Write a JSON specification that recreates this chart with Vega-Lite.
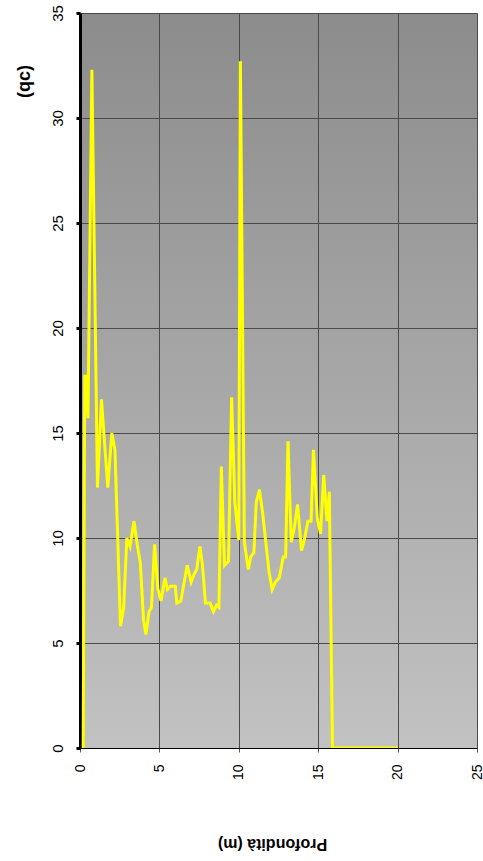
{
  "$schema": "https://vega.github.io/schema/vega-lite/v6.json",
  "autosize": "none",
  "width": 397,
  "height": 735,
  "padding": {"left": 80, "top": 13, "right": 6, "bottom": 113},
  "background": "white",
  "config": {
    "view": {
      "stroke": null,
      "fill": {"gradient": "linear", "x1": 0, "y1": 0, "x2": 0, "y2": 1, "stops": [{"offset": 0, "color": "#8c8c8c"}, {"offset": 1, "color": "#c2c2c2"}]}
    },
    "font": "Liberation Sans"
  },
  "data": {
    "values": [
      {"d": 0.2, "q": 0}, {"d": 0.3, "q": 17.7}, {"d": 0.4, "q": 17.7}, {"d": 0.5, "q": 15.7}, {"d": 0.75, "q": 32.3},
      {"d": 1.1, "q": 12.4}, {"d": 1.35, "q": 16.6}, {"d": 1.75, "q": 12.4}, {"d": 2.0, "q": 15.0}, {"d": 2.2, "q": 14.2},
      {"d": 2.55, "q": 5.8}, {"d": 2.75, "q": 6.7}, {"d": 2.95, "q": 10.0}, {"d": 3.15, "q": 9.6}, {"d": 3.4, "q": 10.8},
      {"d": 3.6, "q": 9.7}, {"d": 3.8, "q": 8.8}, {"d": 4.0, "q": 6.1}, {"d": 4.15, "q": 5.4}, {"d": 4.35, "q": 6.5},
      {"d": 4.5, "q": 6.7}, {"d": 4.7, "q": 9.7}, {"d": 4.9, "q": 7.6}, {"d": 5.1, "q": 7.0}, {"d": 5.35, "q": 8.1},
      {"d": 5.5, "q": 7.55}, {"d": 5.7, "q": 7.7}, {"d": 6.0, "q": 7.7}, {"d": 6.1, "q": 6.9}, {"d": 6.35, "q": 7.0},
      {"d": 6.75, "q": 8.7}, {"d": 7.0, "q": 7.9}, {"d": 7.2, "q": 8.3}, {"d": 7.35, "q": 8.5}, {"d": 7.55, "q": 9.6},
      {"d": 7.7, "q": 8.8}, {"d": 7.9, "q": 6.9}, {"d": 8.2, "q": 6.9}, {"d": 8.4, "q": 6.5}, {"d": 8.6, "q": 6.8},
      {"d": 8.75, "q": 6.7}, {"d": 8.9, "q": 13.4}, {"d": 9.1, "q": 8.7}, {"d": 9.35, "q": 8.9}, {"d": 9.55, "q": 16.7},
      {"d": 9.75, "q": 11.7}, {"d": 10.0, "q": 9.9}, {"d": 10.1, "q": 32.7}, {"d": 10.35, "q": 9.8}, {"d": 10.6, "q": 8.5},
      {"d": 10.75, "q": 9.1}, {"d": 10.95, "q": 9.3}, {"d": 11.1, "q": 11.7}, {"d": 11.3, "q": 12.3}, {"d": 11.5, "q": 11.2},
      {"d": 11.9, "q": 8.4}, {"d": 12.1, "q": 7.55}, {"d": 12.3, "q": 7.9}, {"d": 12.55, "q": 8.1}, {"d": 12.8, "q": 9.1},
      {"d": 12.95, "q": 9.1}, {"d": 13.1, "q": 14.6}, {"d": 13.3, "q": 9.8}, {"d": 13.5, "q": 10.5}, {"d": 13.7, "q": 11.6},
      {"d": 13.95, "q": 9.4}, {"d": 14.15, "q": 10.0}, {"d": 14.35, "q": 10.8}, {"d": 14.55, "q": 10.8}, {"d": 14.7, "q": 14.2},
      {"d": 14.95, "q": 10.9}, {"d": 15.15, "q": 10.2}, {"d": 15.35, "q": 13.0}, {"d": 15.55, "q": 10.8}, {"d": 15.7, "q": 12.2},
      {"d": 15.9, "q": 0}, {"d": 20.0, "q": 0}
    ]
  },
  "mark": {"type": "line", "color": "#ffff00", "strokeWidth": 3, "strokeJoin": "miter", "clip": true},
  "encoding": {
    "x": {
      "field": "d", "type": "quantitative", "sort": null,
      "scale": {"domain": [0, 25], "nice": false, "zero": false},
      "axis": {
        "values": [0, 5, 10, 15, 20, 25],
        "title": "Profondità (m)",
        "titleAngle": 180, "titleFontSize": 16, "titleFontWeight": "bold", "titleColor": "black",
        "titleY": 95, "titleX": 192, "titleBaseline": "middle", "titleAlign": "center",
        "labelAngle": 270, "labelFontSize": 14, "labelColor": "black", "labelPadding": 12,
        "labelFont": "Liberation Sans", "titleFont": "Liberation Sans",
        "domainColor": "black", "domainWidth": 1,
        "tickColor": "#555555", "tickSize": 4, "tickWidth": 1,
        "gridColor": "#4a4a4a", "gridWidth": 1, "gridOpacity": 1
      }
    },
    "y": {
      "field": "q", "type": "quantitative",
      "scale": {"domain": [0, 35], "nice": false},
      "axis": {
        "values": [0, 5, 10, 15, 20, 25, 30, 35],
        "title": "(qc)",
        "titleAngle": 270, "titleFontSize": 18, "titleFontWeight": "bold", "titleColor": "black",
        "titleX": -56, "titleY": 68, "titleAlign": "center", "titleBaseline": "middle",
        "labelAngle": 270, "labelAlign": "center", "labelBaseline": "bottom",
        "labelFontSize": 15, "labelColor": "black", "labelPadding": 11,
        "labelFont": "Liberation Sans", "titleFont": "Liberation Sans",
        "domainColor": "black", "domainWidth": 3,
        "tickColor": "black", "tickSize": 4, "tickWidth": 3,
        "gridColor": "#4a4a4a", "gridWidth": 1, "gridOpacity": 1
      }
    }
  }
}
